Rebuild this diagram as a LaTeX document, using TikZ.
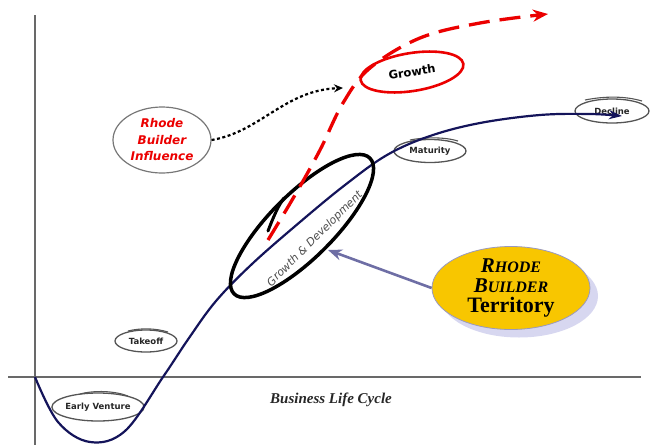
\documentclass[tikz,border=0pt]{standalone}
\usepackage{fontspec}
\setmainfont{Liberation Serif}
\newfontfamily\comic{DejaVu Sans}
\usetikzlibrary{shapes.geometric,arrows.meta}
\definecolor{navyc}{RGB}{20,20,90}
\definecolor{axisc}{RGB}{105,105,105}
\definecolor{lblc}{RGB}{85,85,85}
\definecolor{redc}{RGB}{235,0,0}
\definecolor{yelc}{RGB}{248,198,0}
\definecolor{shadc}{RGB}{215,215,240}
\definecolor{arrc}{RGB}{110,110,165}
\begin{document}
\begin{tikzpicture}[x=1pt,y=-1pt,
  stagelbl/.style={ellipse, draw=lblc, line width=1.3pt, inner sep=0pt, font=\comic\bfseries\fontsize{8.5}{9}\selectfont, text=black!85},
]
\useasboundingbox (0,0) rectangle (651,445);
% axes
\draw[axisc, line width=1.8pt] (35,15) -- (35,445);
\draw[axisc, line width=1.8pt] (8,377) -- (641,377);
% stage labels
\node[stagelbl, minimum width=80pt, minimum height=28pt] (early) at (98,407) {Early Venture};
\draw[lblc, line width=1.1pt] (80,394) .. controls (95,390) and (115,391) .. (128,396);
\node[stagelbl, minimum width=62pt, minimum height=22pt] (takeoff) at (146,341) {Takeoff};
\draw[lblc, line width=1.1pt] (128,331) .. controls (140,328) and (155,328) .. (168,332);
\node[stagelbl, minimum width=72pt, minimum height=23pt] (maturity) at (430,151) {Maturity};
\draw[lblc, line width=1.1pt] (410,140) .. controls (425,137) and (445,137) .. (458,141);
\node[stagelbl, minimum width=74pt, minimum height=24pt] (decline) at (612,111) {Decline};
\draw[lblc, line width=1.1pt] (585,100) .. controls (605,96) and (625,96) .. (642,101);
% main life-cycle curve
\draw[navyc, line width=2.2pt, -{Stealth[length=13pt,width=9pt]}]
  plot[smooth, tension=0.6] coordinates {(35,377) (58,422) (90,442) (125,431) (163,377) (189,338) (216,301) (252,264) (300,222) (345,185) (387,155) (430,136) (480,123) (540,115) (590,114) (622,116)};
% growth & development ellipse
\node[ellipse, draw=black, line width=3.5pt, minimum width=192pt, minimum height=64pt, rotate=45,
  inner sep=0pt] (gd) at (302,226) {};
\node[rotate=45, font=\comic\itshape\fontsize{11}{12}\selectfont, text=black!70, inner sep=0pt] (gdtext) at (315,239) {Growth \& Development};
\draw[black, line width=3pt, line cap=round] (268,231) .. controls (273,218) and (278,206) .. (284,198);
% red growth path
\draw[redc, line width=3.3pt, dash pattern=on 21pt off 10pt, -{Stealth[length=15pt,width=12pt]}]
  plot[smooth, tension=0.6] coordinates {(268,240) (295,195) (320,150) (343,103) (370,68) (420,38) (480,23) (548,14)};
\node[ellipse, draw=redc, line width=2.6pt, minimum width=104pt, minimum height=38pt, rotate=9,
  font=\comic\bfseries\fontsize{11.5}{12}\selectfont, inner sep=0pt] (growth) at (412,72) {Growth};
% influence
\node[ellipse, draw=lblc!80, line width=1.2pt, minimum width=98pt, minimum height=66pt, inner sep=0pt,
  align=center, text=redc, font=\comic\bfseries\itshape\fontsize{12}{16.5}\selectfont] (infl) at (162,140) {Rhode\\Builder\\Influence};
\coordinate (gtip) at (343,88);
\draw[black, line width=2.2pt, dash pattern=on 3pt off 2.5pt, -{Stealth[length=9pt,width=8pt]}]
  (infl.east) .. controls (260,132) and (285,90) .. (gtip);
% territory
\node[ellipse, fill=shadc, minimum width=158pt, minimum height=83pt] (tshadow) at (519,296) {};
\node[ellipse, fill=yelc, draw=arrc!70, line width=0.8pt, minimum width=158pt, minimum height=83pt, inner sep=0pt,
  align=center, font=\bfseries\fontsize{21}{20}\selectfont] (terr) at (511,288)
  {\itshape R{\fontsize{16}{20}\selectfont HODE}\\
   \itshape B{\fontsize{16}{20}\selectfont UILDER}\\
   \upshape\fontsize{22}{20}\selectfont Territory};
\coordinate (gdtip) at (328,250);
\draw[arrc, line width=2.6pt, -{Stealth[length=14pt,width=11pt]}] (terr.west) -- (gdtip);
% title
\node[font=\bfseries\itshape\fontsize{15}{16}\selectfont, text=black!85] (title) at (331,400) {Business Life Cycle};
\end{tikzpicture}
\end{document}
